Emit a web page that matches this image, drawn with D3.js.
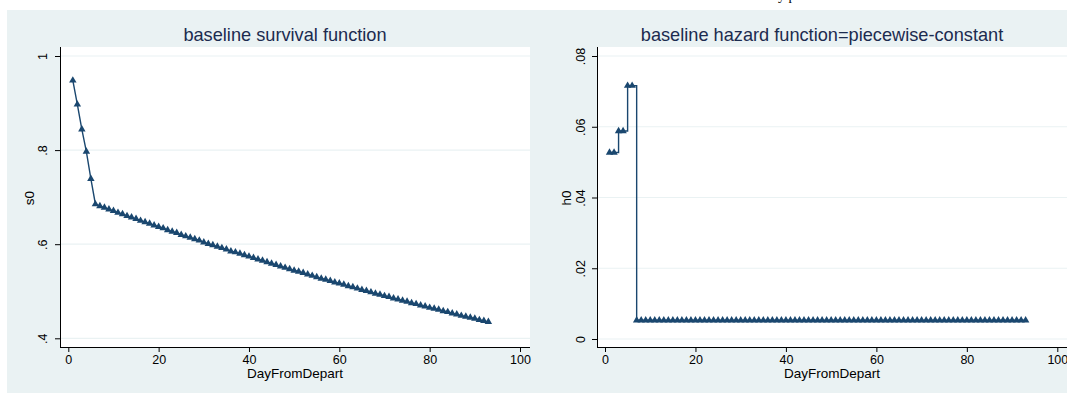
<!DOCTYPE html>
<html><head><meta charset="utf-8">
<script src="https://cdn.jsdelivr.net/npm/d3@7"></script>
<style>
html,body{margin:0;padding:0;background:#fff;}
svg{display:block;font-family:"Liberation Sans",Arial,sans-serif;}
</style></head>
<body><svg id="c" width="1067" height="393"></svg>
<script>
// ---- data ----
const days = d3.range(1, 94); // DayFromDepart 1..93
const survival = [
  0.948, 0.897, 0.844, 0.797, 0.739, 0.685,
  0.681, 0.678, 0.674, 0.671, 0.667, 0.664, 0.660, 0.657, 0.654, 0.650,
  0.647, 0.644, 0.640, 0.637, 0.634, 0.630, 0.627, 0.624, 0.620, 0.617,
  0.614, 0.611, 0.608, 0.604, 0.601, 0.598, 0.595, 0.592, 0.589, 0.585,
  0.583, 0.580, 0.577, 0.574, 0.571, 0.568, 0.565, 0.562, 0.559, 0.556,
  0.553, 0.550, 0.547, 0.544, 0.542, 0.539, 0.536, 0.533, 0.530, 0.527,
  0.525, 0.522, 0.519, 0.517, 0.514, 0.511, 0.509, 0.506, 0.503, 0.501,
  0.498, 0.495, 0.493, 0.490, 0.488, 0.485, 0.483, 0.480, 0.478, 0.475,
  0.473, 0.470, 0.468, 0.465, 0.463, 0.461, 0.458, 0.456, 0.453, 0.451,
  0.448, 0.446, 0.444, 0.442, 0.439, 0.437, 0.435
];
const hazard = [
  0.0527, 0.0527, 0.0588, 0.0588, 0.0716, 0.0716,
  0.0053, 0.0053, 0.0053, 0.0053, 0.0053, 0.0053, 0.0053, 0.0053, 0.0053, 0.0053,
  0.0053, 0.0053, 0.0053, 0.0053, 0.0053, 0.0053, 0.0053, 0.0053, 0.0053, 0.0053,
  0.0053, 0.0053, 0.0053, 0.0053, 0.0053, 0.0053, 0.0053, 0.0053, 0.0053, 0.0053,
  0.0053, 0.0053, 0.0053, 0.0053, 0.0053, 0.0053, 0.0053, 0.0053, 0.0053, 0.0053,
  0.0053, 0.0053, 0.0053, 0.0053, 0.0053, 0.0053, 0.0053, 0.0053, 0.0053, 0.0053,
  0.0053, 0.0053, 0.0053, 0.0053, 0.0053, 0.0053, 0.0053, 0.0053, 0.0053, 0.0053,
  0.0053, 0.0053, 0.0053, 0.0053, 0.0053, 0.0053, 0.0053, 0.0053, 0.0053, 0.0053,
  0.0053, 0.0053, 0.0053, 0.0053, 0.0053, 0.0053, 0.0053, 0.0053, 0.0053, 0.0053,
  0.0053, 0.0053, 0.0053, 0.0053, 0.0053, 0.0053, 0.0053
];
const xTicks = [0, 20, 40, 60, 80, 100];
const sTicks = [0.4, 0.6, 0.8, 1];
const sTickLabels = [".4", ".6", ".8", "1"];
const hTicks = [0, 0.02, 0.04, 0.06, 0.08];
const hTickLabels = ["0", ".02", ".04", ".06", ".08"];
const titles = ["baseline survival function", "baseline hazard function=piecewise-constant"];
const xTitle = "DayFromDepart";
const yTitles = ["s0", "h0"];

// ---- drawing ----
const svg = d3.select("#c");
const BG = "#eaf2f3", NAVY = "#1a476f";
svg.append("rect").attr("x", 7).attr("y", 10).attr("width", 1060).attr("height", 383).attr("fill", BG);
// clipped fragment of text above (cut off at top edge in the reference too)
svg.append("text").attr("x", 778).attr("y", 0).attr("font-family", "Liberation Serif, serif")
  .attr("font-size", 14).attr("fill", "#000").text("y p");

const panels = [
  {x0: 60, x1: 530, xd: [0, 100], xr: [68.3, 520], yd: [0.4, 1], yr: [338.3, 56],
   ticks: sTicks, labels: sTickLabels, vals: survival, step: false, title: titles[0], ytitle: yTitles[0],
   titleX: 285, yTitleX: 29, yLabX: 43, xTitleX: 295},
  {x0: 597, x1: 1067, xd: [0, 100], xr: [605, 1057.3], yd: [0, 0.08], yr: [339, 56],
   ticks: hTicks, labels: hTickLabels, vals: hazard, step: true, title: titles[1], ytitle: yTitles[1],
   titleX: 822, yTitleX: 566, yLabX: 581, xTitleX: 832}
];
const plotTop = 47, plotBottom = 347;

panels.forEach(p => {
  const g = svg.append("g");
  const x = d3.scaleLinear().domain(p.xd).range(p.xr);
  const y = d3.scaleLinear().domain(p.yd).range(p.yr);
  g.append("rect").attr("x", p.x0).attr("y", plotTop).attr("width", p.x1 - p.x0).attr("height", plotBottom - plotTop).attr("fill", "#fff");
  // grid
  g.selectAll("line.grid").data(p.ticks).join("line").attr("class", "grid")
    .attr("x1", p.x0).attr("x2", p.x1).attr("y1", d => y(d)).attr("y2", d => y(d))
    .attr("stroke", "#eaf2f3").attr("stroke-width", 1.2);
  // y axis
  const ya = g.append("g").attr("transform", `translate(${p.x0},0)`)
    .call(d3.axisLeft(y).tickValues(p.ticks).tickFormat((d, i) => p.labels[i]).tickSize(5).tickPadding(4));
  ya.select(".domain").attr("d", `M0.5,${plotTop}V${plotBottom}`).attr("stroke", "#000");
  ya.selectAll(".tick line").attr("stroke", "#000");
  ya.selectAll(".tick text").attr("font-size", 12.5).attr("fill", "#000").attr("font-family", "Liberation Sans, Arial, sans-serif")
    .attr("text-anchor", "middle").attr("x", null).attr("dy", null)
    .attr("transform", `translate(${p.yLabX - p.x0 + 4},0) rotate(-90)`).attr("y", 0);
  // x axis
  const xa = g.append("g").attr("transform", `translate(0,${plotBottom})`)
    .call(d3.axisBottom(x).tickValues(xTicks).tickFormat(d3.format("d")).tickSize(5).tickPadding(3));
  xa.select(".domain").attr("d", `M${p.x0},0.5H${p.x1}`).attr("stroke", "#000");
  xa.selectAll(".tick line").attr("stroke", "#000");
  xa.selectAll(".tick text").attr("font-size", 12.5).attr("fill", "#000").attr("font-family", "Liberation Sans, Arial, sans-serif");
  // titles
  g.append("text").attr("x", p.titleX).attr("y", 40.5).attr("text-anchor", "middle")
    .attr("font-size", 18.2).attr("fill", "#1c2b4f").text(p.title);
  g.append("text").attr("x", p.xTitleX).attr("y", 378).attr("text-anchor", "middle")
    .attr("font-size", 13.5).attr("fill", "#000").text(xTitle);
  g.append("text").attr("transform", `translate(${p.yTitleX + 5},198) rotate(-90)`).attr("text-anchor", "middle")
    .attr("font-size", 13.5).attr("fill", "#000").text(p.ytitle);
  // series
  const pts = days.map((d, i) => [d, p.vals[i]]);
  const line = d3.line().x(d => x(d[0])).y(d => y(d[1])).curve(p.step ? d3.curveStepAfter : d3.curveLinear);
  g.append("path").datum(pts).attr("d", line).attr("fill", "none").attr("stroke", NAVY).attr("stroke-width", 1.4);
  const tri = d3.symbol().type(d3.symbolTriangle).size(24);
  g.selectAll("path.m").data(pts).join("path").attr("class", "m")
    .attr("transform", d => `translate(${x(d[0])},${y(d[1])})`).attr("d", tri).attr("fill", NAVY);
});
</script></body></html>
